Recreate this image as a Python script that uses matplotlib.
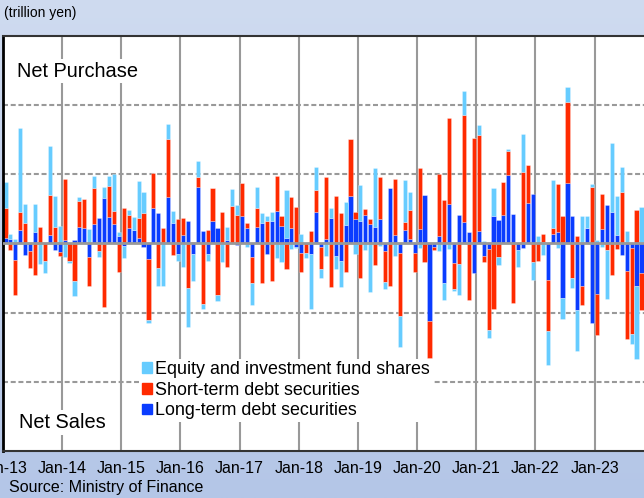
import numpy as np
import matplotlib.pyplot as plt
from matplotlib.patches import Patch
from matplotlib.colors import LinearSegmentedColormap

plt.rcParams['font.family'] = ['Liberation Sans', 'DejaVu Sans']

# monthly net purchases by foreign investors, Jan-13 .. Oct-23 (trillion yen)
long_term = [
    0.15, 0.12, -0.48, 0.40, -0.34, -0.21, 0.34, 0.00, 0.00, 0.23, -0.19, -0.26,
    0.10, 0.00, 0.10, 0.48, 0.45, -0.38, 0.55, 0.72, 1.32, 0.77, 0.55, 0.22,
    -0.07, 0.45, 0.38, 0.16, -0.10, -0.45, 1.01, 0.88, 0.00, 1.35, 0.60, -0.31,
    0.24, 0.64, -0.31, 1.64, 0.35, -0.31, 0.66, 0.45, 0.00, 0.10, 0.00, -0.05,
    0.80, 0.45, -0.40, 0.48, 0.60, -0.31, 0.65, 0.94, 0.51, 0.15, 0.44, -0.10,
    -0.29, 0.00, -0.31, 0.92, -0.10, 0.14, 0.73, -0.37, -0.50, 0.53, 1.37, 0.69,
    0.65, 0.82, 0.57, 0.47, 0.71, -0.21, 1.60, 0.25, -0.27, 0.40, 0.13, -0.29,
    0.42, 1.39, -2.23, -0.10, 0.22, -1.15, 1.13, -0.58, 0.82, 0.62, 0.34, -0.87,
    0.37, -0.37, -0.17, 0.79, 0.67, 0.83, 1.97, 0.84, -0.19, -0.14, 1.16, 1.42,
    0.00, 0.05, -1.06, 0.28, 0.32, -1.59, 1.73, 0.79, -1.93, -1.22, 0.44, -2.29,
    -1.45, 0.41, 1.11, 0.91, 0.24, -0.34, -0.80, -0.12, -1.23, -0.85,
]
short_term = [
    0.87, -0.19, -1.01, 0.51, 0.60, -0.51, -0.91, 0.46, -0.51, 1.16, 0.47, -0.11,
    1.76, -0.51, -1.10, 0.74, 0.82, -0.86, 1.06, -0.21, -1.85, 0.90, 0.39, -0.82,
    1.01, 0.37, 0.00, 0.58, 0.89, -1.77, 1.03, -0.70, 0.43, 1.67, -0.34, 0.69,
    0.50, -1.28, 0.04, 0.27, -1.76, 0.40, 0.93, -1.49, 0.92, -0.69, 1.09, 0.83,
    0.93, 0.15, -0.74, 0.53, -1.16, 0.66, -1.09, 1.02, 0.29, -0.75, 0.89, 1.04,
    -0.53, -0.29, 0.37, 0.61, -0.65, 1.77, -1.26, 1.37, 0.88, -0.84, 1.64, 0.21,
    -0.99, 0.17, 0.13, -0.63, 1.20, -0.92, -1.23, 1.60, -1.83, 0.22, 0.83, -0.53,
    1.77, -0.55, -1.09, -0.10, 1.77, 1.26, 2.50, -0.75, -0.60, 3.09, -1.65, 3.04,
    2.77, -0.17, -2.33, -1.90, -0.39, 0.93, 0.70, -1.72, 0.00, 2.07, 1.09, -0.53,
    -0.50, 0.22, -1.47, 0.16, 1.40, 0.80, 2.35, -1.00, 0.20, -0.56, 0.00, 1.64,
    -1.20, 1.03, -0.19, -0.92, -0.17, 1.48, -1.95, -2.50, 0.96, -1.08,
]
equity = [
    0.74, 0.16, 0.12, 2.42, 0.54, 0.00, 0.80, -0.60, -0.36, 1.43, 0.89, 0.50,
    -0.40, -0.05, -0.43, 0.12, 0.00, 0.41, 0.35, -0.19, 0.30, 0.29, 1.06, 0.10,
    -0.34, 0.13, 0.37, 1.06, 0.60, -0.07, 0.00, -0.54, -1.22, 0.43, 0.33, -0.19,
    -0.67, -1.15, -0.78, 0.47, -0.13, -0.19, 0.00, -0.19, -0.53, 0.36, 0.48, 0.27,
    0.00, -0.10, -0.64, 0.61, 0.29, 0.13, 0.27, -0.42, -0.53, 1.40, -0.17, -0.04,
    0.27, -0.12, -1.58, 0.67, -0.25, -0.37, 0.30, -0.36, -0.77, 0.66, 0.00, -0.31,
    1.04, -0.18, -1.42, 1.71, -0.07, -0.18, 0.00, -0.37, -0.89, 1.20, 0.52, 0.04,
    -0.14, 0.00, 0.00, 0.02, -0.21, -0.49, -0.17, -0.04, -0.90, 0.69, 0.00, 0.00,
    0.29, 0.06, -0.24, 0.82, -0.24, 0.00, 0.07, 0.00, -0.50, 1.08, 0.00, -0.53,
    0.22, -0.34, -0.99, 1.39, -0.14, -0.61, 0.43, -0.28, -1.18, 0.80, 0.36, 0.07,
    0.10, -0.10, -1.43, 2.00, 1.13, 0.74, 0.36, -0.29, -2.12, 1.06,
]
year_labels = ["Jan-13", "Jan-14", "Jan-15", "Jan-16", "Jan-17", "Jan-18",
               "Jan-19", "Jan-20", "Jan-21", "Jan-22", "Jan-23"]

series = [
    ("Long-term debt securities", long_term, "#0a3cff"),
    ("Short-term debt securities", short_term, "#ff2a00"),
    ("Equity and investment fund shares", equity, "#66ccff"),
]

W, H = 644, 498
fig = plt.figure(figsize=(W / 100, H / 100), dpi=100)

# light blue gradient background
bg = fig.add_axes([0, 0, 1, 1], zorder=-10)
cmap = LinearSegmentedColormap.from_list("bg", ["#b4c6e7", "#cfdbf0"])
bg.imshow(np.linspace(0, 1, 256).reshape(-1, 1)[::-1], aspect="auto", cmap=cmap,
          extent=[0, 1, 0, 1])
bg.axis("off")

px_month = 4.93
ax = fig.add_axes([3 / W, 1 - 451 / H, 656 / W, (451 - 35.7) / H])
ax.set_facecolor("white")
ax.set_xlim(0, 656 / px_month)
ax.set_ylim(-6, 6)

x = np.arange(len(long_term)) + 0.5
pos = np.zeros(len(x))
neg = np.zeros(len(x))
for name, vals, col in series:
    v = np.array(vals)
    bottom = np.where(v >= 0, pos, neg)
    ax.bar(x, v, width=0.84, bottom=bottom, color=col, label=name,
           edgecolor=(1, 1, 1, 0.45), linewidth=0.4, zorder=2)
    pos += np.clip(v, 0, None)
    neg += np.clip(v, None, 0)

ax.axhline(0, color="#999999", lw=2, zorder=3)

ax.set_axisbelow(True)
ax.set_xticks(np.arange(0, 121, 12))
ax.set_xticklabels(year_labels)
ax.set_yticks([-4, -2, 2, 4])
ax.set_yticklabels([])
ax.xaxis.grid(True, color="#999999", lw=1.5)
ax.yaxis.grid(True, color="#999999", lw=1.5, ls=(0, (2.4, 1.3)))
ax.tick_params(axis="x", length=0, pad=7.5, labelsize=11.5, colors="black")
ax.tick_params(axis="y", length=0)

ax.spines["right"].set_visible(False)
ax.spines["left"].set_color("black")
ax.spines["left"].set_linewidth(2)
for s in ("top", "bottom"):
    ax.spines[s].set_color("#333333")
    ax.spines[s].set_linewidth(1.5)

handles = [Patch(color=c, label=n) for n, _, c in series[::-1]]
leg = ax.legend(handles=handles, loc="upper left",
                bbox_to_anchor=(139 / W, 1 - 358.5 / H), bbox_transform=fig.transFigure,
                frameon=True, fancybox=False, framealpha=1, edgecolor="white",
                fontsize=12.9, handlelength=0.56, handleheight=0.56,
                handletextpad=0.18, labelspacing=0.2, borderpad=0.15,
                borderaxespad=0)
leg.get_frame().set_linewidth(0)

box = dict(facecolor="white", edgecolor="none", pad=2)
fig.text(17 / W, 1 - 76.7 / H, "Net Purchase", fontsize=14.4, va="baseline", bbox=box)
fig.text(19 / W, 1 - 428 / H, "Net Sales", fontsize=14.4, va="baseline", bbox=box)

fig.text(4 / W, 1 - 12.8 / H, "(trillion yen)", fontsize=10, va="center")
fig.text(9 / W, 1 - 487 / H, "Source: Ministry of Finance", fontsize=11.5, va="center")

fig.savefig("out.png", dpi=100)
